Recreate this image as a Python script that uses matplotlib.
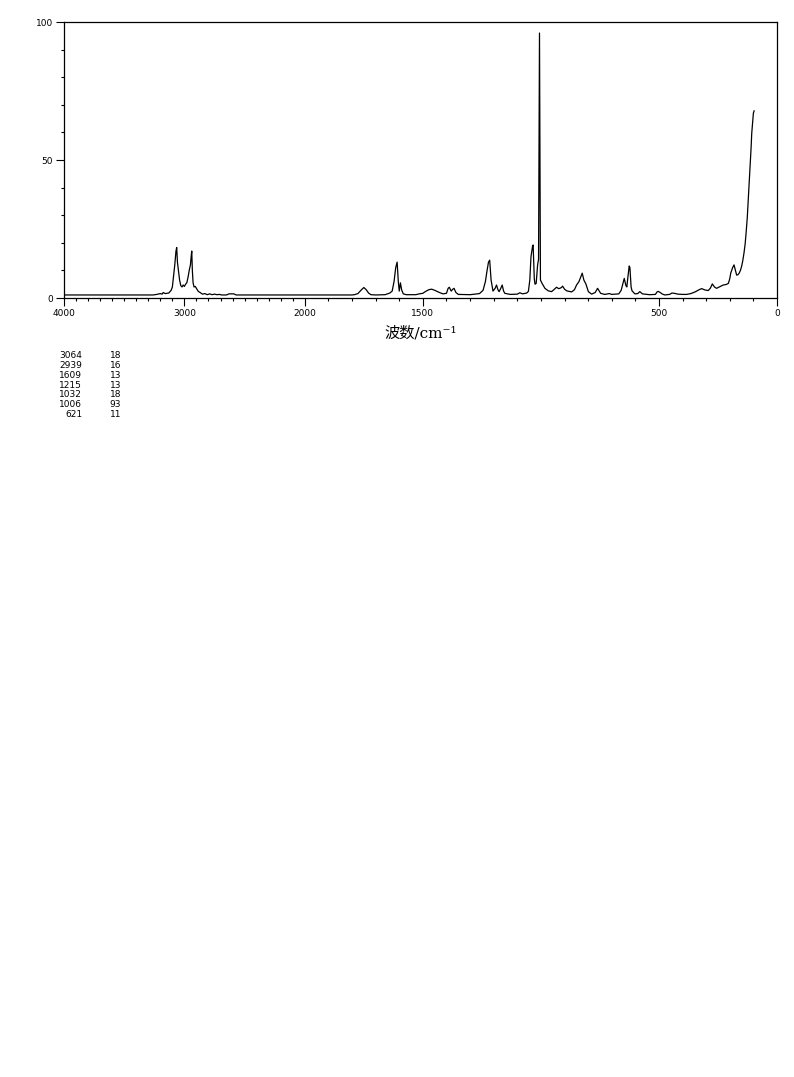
import numpy as np
import matplotlib as mpl
mpl.use('Agg')
import matplotlib.pyplot as plt
from matplotlib.ticker import FixedLocator, NullFormatter

# spectrum (wavenumber cm-1, intensity)
wavenumber = [4000, 3260, 3230, 3200, 3185, 3176, 3160, 3130, 3110, 3100,
              3090, 3080, 3070, 3064, 3058, 3050, 3040, 3030, 3020, 3010,
              3000, 2990, 2980, 2970, 2960, 2950, 2944, 2939, 2934, 2928,
              2920, 2910, 2900, 2885, 2870, 2850, 2830, 2810, 2790, 2770,
              2750, 2730, 2710, 2690, 2650, 2630, 2590, 2570, 1800, 1790,
              1775, 1760, 1750, 1740, 1730, 1720, 1700, 1660, 1640, 1630,
              1622, 1615, 1609, 1604, 1600, 1595, 1590, 1583, 1570, 1530,
              1515, 1500, 1490, 1475, 1463, 1450, 1430, 1415, 1400, 1393,
              1388, 1380, 1373, 1368, 1360, 1350, 1300, 1260, 1245, 1235,
              1228, 1222, 1217, 1211, 1203, 1194, 1188, 1182, 1177, 1170,
              1164, 1158, 1153, 1130, 1100, 1089, 1078, 1060, 1053, 1047,
              1042, 1035, 1033, 1028, 1025, 1020, 1014, 1010, 1006, 1002,
              995, 983, 969, 955, 945, 934, 925, 920, 913, 908,
              900, 891, 870, 858, 849, 839, 832, 825, 818, 809,
              799, 785, 770, 760, 753, 747, 730, 710, 700, 670,
              660, 652, 647, 640, 636, 631, 626, 623, 618, 614,
              602, 590, 581, 570, 540, 515, 508, 503, 495, 485,
              475, 455, 445, 435, 420, 400, 383, 365, 347, 330,
              319, 305, 291, 282, 274, 265, 256, 240, 228, 215,
              206, 200, 196, 188, 182, 176, 171, 166, 160, 155,
              150, 145, 140, 135, 131, 126, 122, 118, 114, 110,
              107, 103, 100, 97]
intensity = [1.1, 1.1, 1.3, 1.6, 1.4, 2.0, 1.6, 1.8, 2.8, 4.0,
             8.0, 12.0, 17.0, 18.3, 13.0, 10.0, 6.5, 4.5, 4.0, 4.7,
             4.2, 5.0, 5.5, 7.5, 10.0, 12.0, 15.0, 17.0, 10.0, 5.5,
             4.0, 4.2, 3.5, 2.4, 2.0, 1.4, 1.6, 1.2, 1.5, 1.2,
             1.4, 1.2, 1.3, 1.1, 1.1, 1.5, 1.5, 1.1, 1.1, 1.2,
             1.6, 3.0, 3.8, 3.0, 1.8, 1.2, 1.1, 1.2, 1.8, 2.5,
             6.0, 11.0, 13.0, 6.0, 2.5, 5.5, 3.0, 1.5, 1.2, 1.2,
             1.5, 1.7, 2.3, 3.0, 3.2, 2.8, 2.0, 1.5, 1.7, 3.5,
             3.9, 2.5, 3.2, 3.5, 2.0, 1.3, 1.2, 1.6, 2.8, 6.0,
             10.0, 13.0, 13.7, 6.5, 2.5, 3.5, 4.7, 3.0, 2.3, 3.5,
             4.7, 2.5, 1.7, 1.3, 1.4, 1.9, 1.5, 1.8, 2.4, 6.5,
             15.0, 19.0, 19.2, 7.0, 5.0, 5.3, 12.0, 14.0, 96.0, 6.5,
             5.3, 3.5, 2.6, 2.3, 3.0, 3.9, 3.4, 3.5, 3.8, 4.3,
             3.2, 2.6, 2.2, 3.0, 4.7, 5.9, 7.5, 9.0, 6.5, 5.0,
             2.3, 1.4, 2.0, 3.5, 2.5, 1.7, 1.3, 1.6, 1.3, 1.5,
             2.8, 5.5, 7.1, 4.5, 4.0, 8.0, 11.6, 11.0, 4.0, 2.6,
             1.5, 1.6, 2.3, 1.5, 1.2, 1.3, 2.2, 2.4, 2.0, 1.4,
             1.1, 1.3, 1.8, 1.7, 1.4, 1.3, 1.3, 1.6, 2.2, 3.0,
             3.4, 2.9, 2.7, 3.6, 5.1, 4.0, 3.5, 4.2, 4.7, 4.9,
             5.3, 7.0, 9.0, 11.0, 12.0, 10.0, 8.3, 8.4, 9.0, 10.0,
             11.4, 13.5, 16.2, 19.5, 23.5, 29.0, 35.5, 41.5, 47.6, 54.0,
             59.7, 64.0, 67.0, 67.8]

# peak table printed under the chart
peak_pos = ['3064', '2939', '1609', '1215', '1032', '1006', '621']
peak_int = ['18', '16', '13', '13', '18', '93', '11']

xticks_major = [4000, 3000, 2000, 1500, 500, 0]
xtick_labels = ['4000', '3000', '2000', '1500', '500', '0']
yticks_major = [0, 50, 100]

W, H = 794, 1077


def fwd(w):
    w = np.asarray(w, dtype=float)
    return np.where(w > 2000, 2000 + (w - 2000) * 0.51, w)


def inv(u):
    u = np.asarray(u, dtype=float)
    return np.where(u > 2000, 2000 + (u - 2000) / 0.51, u)


def main():
    fig = plt.figure(figsize=(W / 100, H / 100), dpi=100)
    ax = fig.add_axes([64 / W, 1 - 298 / H, (777 - 64) / W, (298 - 22) / H])

    ax.plot(wavenumber, intensity, color='black', lw=0.9)

    ax.set_xscale('function', functions=(fwd, inv))
    ax.set_xlim(4000, 0)
    ax.set_ylim(0, 100)

    ax.xaxis.set_major_locator(FixedLocator(xticks_major))
    ax.set_xticklabels(xtick_labels)
    ax.xaxis.set_minor_locator(FixedLocator(list(range(0, 4001, 100))))
    ax.xaxis.set_minor_formatter(NullFormatter())
    ax.yaxis.set_major_locator(FixedLocator(yticks_major))
    ax.yaxis.set_minor_locator(FixedLocator(list(range(0, 101, 10))))
    ax.yaxis.set_minor_formatter(NullFormatter())

    ax.tick_params(which='major', length=6, width=0.8, labelsize=6.5,
                   direction='out', pad=2)
    ax.tick_params(which='minor', length=2.5, width=0.8, direction='out')
    for s in ax.spines.values():
        s.set_linewidth(0.9)

    ax.set_xlabel('波数/cm⁻¹', fontsize=11,
                  family=['DejaVu Serif', 'Noto Sans CJK SC'], labelpad=6)

    y0 = 356
    for i in range(len(peak_pos)):
        yy = 1 - (y0 + i * 9.7) / H
        fig.text(82 / W, yy, peak_pos[i], ha='right', va='center', fontsize=6.5)
        fig.text(121 / W, yy, peak_int[i], ha='right', va='center', fontsize=6.5)

    fig.savefig('out.png', dpi=100)


if __name__ == "__main__":
    main()
